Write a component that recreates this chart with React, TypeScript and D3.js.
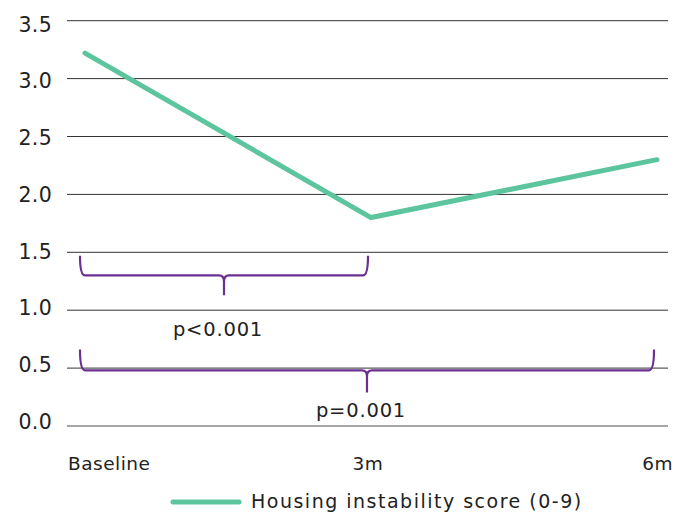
import React from "react";
import * as d3 from "d3";

const categories = ["Baseline", "3m", "6m"];
const values = [3.22, 1.8, 2.3];
const yTicks = [0, 0.5, 1, 1.5, 2, 2.5, 3, 3.5];
const seriesName = "Housing instability score (0-9)";
const brackets = [
  { from: "Baseline", to: "3m", level: 1.3, top: 1.47, tip: 1.13, label: "p<0.001", labelY: 0.836 },
  { from: "Baseline", to: "6m", level: 0.48, top: 0.66, tip: 0.29, label: "p=0.001", labelY: 0.138 },
];

const W = 689, H = 515;
const FONT = "'DejaVu Sans', sans-serif";

export default function App() {
  const y = d3.scaleLinear().domain([0, 3.5]).range([426, 20.7]);
  const yLabel = d3.scaleLinear().domain([0, 3.5]).range([421.5, 24]);
  const x = d3.scalePoint<string>().domain(categories).range([85, 657]);
  const line = d3.line<number>().x((_, i) => x(categories[i])!).y((d) => y(d));
  const green = "#5cc59e";
  const purple = "#6a2f91";
  return (
    <svg width={W} height={H} style={{ position: "absolute", left: 0, top: 0, fontFamily: FONT }}>
      {yTicks.map((t) => (
        <g key={t}>
          <line x1={67} x2={668} y1={y(t)} y2={y(t)} stroke={t === 0 ? "#888" : "#333"} strokeWidth={t === 0 ? 1.5 : 1} />
          <text x={52} y={yLabel(t) + 7.5} textAnchor="end" fontSize={20.5} letterSpacing={0.3} fill="#222">{d3.format(".1f")(t)}</text>
        </g>
      ))}
      {brackets.map((b) => {
        const x1 = x(b.from)! - 5, x2 = x(b.to)! - 3;
        const xm = (x1 + x2) / 2;
        const yl = y(b.level), yt = y(b.top), ytip = y(b.tip);
        const d = `M${x1},${yt} Q${x1},${yl} ${x1 + 5},${yl} L${xm - 5},${yl} Q${xm},${yl} ${xm},${yl + 6} L${xm},${ytip} M${xm},${yl + 6} Q${xm},${yl} ${xm + 5},${yl} L${x2 - 5},${yl} Q${x2},${yl} ${x2},${yt}`;
        return (
          <g key={b.label}>
            <path d={d} fill="none" stroke={purple} strokeWidth={2.2} />
            <text x={xm - 6} y={y(b.labelY) + 7} textAnchor="middle" fontSize={19.5} letterSpacing={0.8} fill="#222">{b.label}</text>
          </g>
        );
      })}
      <path d={line(values)!} fill="none" stroke={green} strokeWidth={5} strokeLinecap="round" strokeLinejoin="miter" />
      {categories.map((c, i) => (
        <text key={c} x={i === 0 ? 68 : i === 2 ? 673 : x(c)! - 3} y={470} textAnchor={i === 0 ? "start" : i === 2 ? "end" : "middle"} fontSize={18.5} letterSpacing={0.5} fill="#222">{c}</text>
      ))}
      <line x1={173} x2={239} y1={502} y2={502} stroke={green} strokeWidth={5} strokeLinecap="round" />
      <text x={251} y={508} fontSize={19} letterSpacing={1.5} fill="#222">{seriesName}</text>
    </svg>
  );
}
